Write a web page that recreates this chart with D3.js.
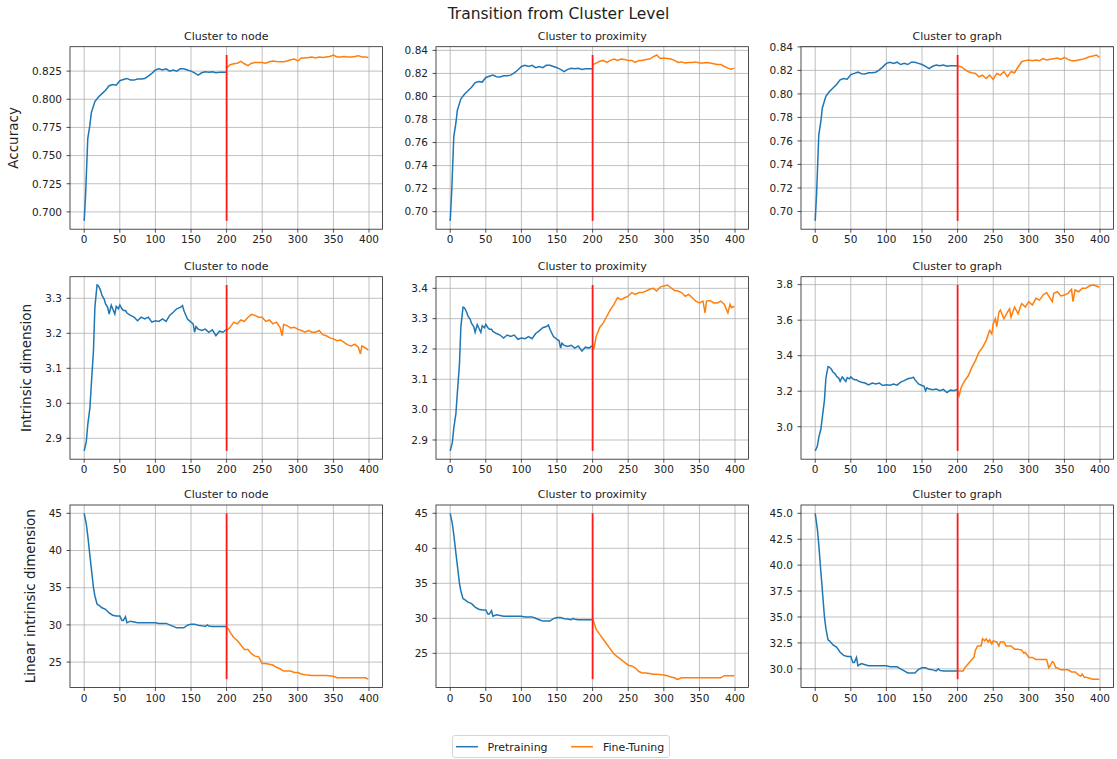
<!DOCTYPE html>
<html>
<head>
<meta charset="utf-8">
<script src="https://cdn.jsdelivr.net/npm/d3@7"></script>
<style>
  body { margin: 0; background: #fff; }
  svg { font-family: "DejaVu Sans", sans-serif; }
</style>
</head>
<body>
<div id="chart"></div>
<script>
const xTicks = [0, 50, 100, 150, 200, 250, 300, 350, 400];
const colTitles = ['Cluster to node', 'Cluster to proximity', 'Cluster to graph'];
const rowLabels = ['Accuracy', 'Intrinsic dimension', 'Linear intrinsic dimension'];
const seriesNames = ['Pretraining', 'Fine-Tuning'];

// [epoch, value]
const accPre = [[0,0.692],[2,0.716],[5,0.765],[8,0.777],[10,0.788],[15,0.798],[20,0.802],[25,0.805],[30,0.808],[35,0.812],[40,0.813],[45,0.8125],[50,0.8165],[55,0.8175],[60,0.8185],[65,0.8172],[70,0.817],[75,0.818],[80,0.818],[85,0.8185],[90,0.8205],[95,0.823],[100,0.826],[105,0.827],[110,0.826],[115,0.827],[120,0.825],[125,0.826],[130,0.825],[135,0.827],[140,0.827],[145,0.826],[150,0.825],[155,0.8235],[160,0.8215],[165,0.8235],[170,0.8245],[175,0.824],[180,0.8245],[185,0.8235],[190,0.824],[195,0.824],[199,0.824]];
const accNode = [[200,0.8277],[205,0.8307],[210,0.8315],[215,0.832],[220,0.8336],[225,0.8315],[230,0.8298],[235,0.832],[240,0.8327],[245,0.8327],[250,0.8327],[255,0.832],[260,0.8333],[265,0.834],[270,0.8336],[275,0.8333],[280,0.8333],[285,0.834],[290,0.835],[295,0.8357],[300,0.834],[305,0.8366],[310,0.8366],[315,0.837],[320,0.8375],[325,0.8366],[330,0.8375],[335,0.837],[340,0.8375],[345,0.838],[350,0.8393],[355,0.8375],[360,0.8375],[365,0.838],[370,0.8375],[375,0.8375],[380,0.838],[385,0.8387],[390,0.8375],[395,0.8375],[399,0.837]];
const accProx = [[200,0.8275],[205,0.829],[210,0.8305],[215,0.8313],[220,0.8295],[225,0.8313],[230,0.8325],[235,0.8313],[240,0.8325],[245,0.832],[250,0.8313],[255,0.8313],[260,0.8295],[265,0.8313],[270,0.8313],[275,0.832],[280,0.8325],[285,0.8343],[290,0.836],[295,0.833],[300,0.8333],[305,0.833],[310,0.8325],[315,0.8313],[320,0.8295],[325,0.83],[330,0.829],[335,0.8295],[340,0.8295],[345,0.83],[350,0.829],[355,0.829],[360,0.8295],[365,0.829],[370,0.8284],[375,0.8278],[380,0.8278],[385,0.826],[390,0.8246],[395,0.8237],[399,0.8246]];
const accGraph = [[200,0.8237],[205,0.8231],[210,0.8209],[215,0.8189],[220,0.818],[225,0.8174],[230,0.8146],[235,0.816],[240,0.8131],[245,0.816],[250,0.8123],[255,0.8174],[260,0.816],[265,0.8189],[270,0.8146],[275,0.8189],[280,0.818],[285,0.8231],[290,0.8274],[295,0.8283],[300,0.8289],[305,0.8283],[310,0.8289],[315,0.8283],[320,0.83],[325,0.8289],[330,0.8294],[335,0.83],[340,0.8306],[345,0.8294],[350,0.8311],[355,0.8294],[360,0.8283],[365,0.8283],[370,0.8289],[375,0.8294],[380,0.8303],[385,0.8317],[390,0.8323],[395,0.8331],[399,0.8311]];

const idPre = [[0,2.864],[3,2.891],[5,2.939],[8,2.987],[10,3.054],[13,3.150],[15,3.274],[18,3.338],[20,3.336],[23,3.322],[25,3.308],[28,3.298],[30,3.284],[33,3.274],[35,3.255],[38,3.280],[40,3.270],[43,3.255],[45,3.277],[48,3.270],[50,3.281],[53,3.270],[55,3.265],[58,3.265],[60,3.258],[65,3.251],[70,3.246],[75,3.236],[80,3.246],[85,3.241],[90,3.246],[95,3.232],[100,3.236],[105,3.234],[110,3.241],[115,3.234],[120,3.251],[125,3.260],[130,3.270],[135,3.274],[138,3.279],[140,3.265],[145,3.241],[150,3.232],[153,3.227],[155,3.203],[157,3.219],[160,3.212],[165,3.208],[170,3.212],[175,3.203],[180,3.210],[185,3.193],[190,3.206],[195,3.203],[199,3.210]];
const idNode = [[200,3.208],[205,3.217],[210,3.232],[215,3.227],[220,3.238],[225,3.234],[230,3.246],[235,3.254],[240,3.251],[245,3.246],[250,3.246],[255,3.234],[260,3.238],[265,3.227],[270,3.232],[275,3.217],[278,3.193],[280,3.225],[285,3.222],[290,3.215],[295,3.217],[300,3.212],[305,3.208],[310,3.203],[315,3.208],[320,3.203],[325,3.203],[330,3.208],[335,3.196],[340,3.193],[345,3.187],[350,3.184],[355,3.179],[360,3.181],[365,3.174],[370,3.167],[375,3.164],[380,3.169],[385,3.160],[388,3.141],[390,3.164],[395,3.158],[399,3.152]];
const idProx = [[200,3.197],[202,3.202],[205,3.241],[210,3.271],[215,3.286],[220,3.308],[225,3.330],[230,3.347],[235,3.369],[240,3.363],[245,3.369],[250,3.374],[255,3.386],[260,3.380],[265,3.386],[270,3.386],[275,3.391],[280,3.397],[285,3.400],[290,3.391],[295,3.404],[300,3.408],[305,3.411],[310,3.402],[315,3.393],[320,3.391],[325,3.386],[330,3.374],[335,3.380],[340,3.369],[345,3.358],[350,3.352],[355,3.358],[358,3.319],[360,3.358],[365,3.360],[370,3.352],[375,3.352],[380,3.358],[385,3.347],[390,3.319],[393,3.347],[395,3.336],[399,3.341]];
const idGraph = [[200,3.202],[202,3.174],[205,3.221],[210,3.259],[215,3.287],[220,3.334],[225,3.372],[230,3.419],[235,3.447],[240,3.485],[245,3.542],[248,3.523],[250,3.579],[253,3.608],[255,3.564],[258,3.645],[260,3.657],[265,3.608],[270,3.645],[273,3.664],[275,3.617],[280,3.674],[285,3.636],[288,3.674],[290,3.694],[295,3.674],[300,3.704],[305,3.685],[310,3.723],[315,3.713],[320,3.742],[325,3.755],[330,3.723],[333,3.704],[335,3.751],[340,3.760],[345,3.736],[350,3.742],[355,3.751],[360,3.774],[362,3.704],[365,3.770],[370,3.760],[375,3.779],[380,3.779],[385,3.792],[390,3.798],[395,3.792],[399,3.785]];

const lidPre = [[0,45.0],[3,43.5],[5,42.0],[8,39.3],[10,37.6],[13,35.0],[15,33.9],[18,32.8],[20,32.7],[25,32.3],[30,32.1],[35,31.6],[40,31.3],[45,31.2],[50,31.2],[53,30.6],[55,30.6],[58,31.1],[60,30.3],[65,30.5],[70,30.4],[75,30.3],[80,30.3],[90,30.3],[100,30.3],[105,30.2],[110,30.2],[115,30.2],[120,30.0],[125,29.8],[130,29.6],[135,29.6],[140,29.6],[145,29.95],[150,30.1],[155,30.1],[160,29.95],[165,29.9],[170,29.8],[173,30.0],[175,29.85],[180,29.8],[190,29.8],[199,29.8]];
const lidNode = [[200,29.6],[203,29.4],[205,29.0],[210,28.3],[215,27.9],[220,27.3],[225,26.7],[230,26.7],[235,26.1],[240,25.8],[245,25.7],[250,24.8],[255,24.8],[260,24.7],[265,24.6],[270,24.3],[275,24.1],[280,23.8],[285,23.8],[290,23.8],[295,23.6],[300,23.6],[305,23.4],[310,23.3],[320,23.2],[330,23.2],[340,23.2],[350,23.1],[355,22.9],[360,22.9],[370,22.9],[380,22.9],[390,22.9],[395,22.9],[399,22.7]];
const lidProx = [[200,29.86],[203,29.1],[205,28.4],[210,27.7],[215,27.0],[220,26.3],[225,25.6],[230,24.9],[235,24.5],[240,24.1],[245,23.7],[250,23.3],[255,23.2],[260,22.9],[265,22.4],[270,22.2],[275,22.2],[280,22.1],[285,22.0],[290,22.0],[300,21.9],[305,21.8],[310,21.6],[315,21.5],[318,21.3],[320,21.3],[325,21.5],[330,21.5],[340,21.5],[350,21.5],[360,21.5],[370,21.5],[380,21.5],[385,21.8],[390,21.8],[395,21.8],[399,21.8]];
const lidGraph = [[200,29.8],[205,29.8],[208,29.8],[210,30.1],[215,30.5],[220,30.9],[223,31.1],[225,31.8],[228,32.2],[230,32.2],[233,32.2],[235,32.9],[238,32.7],[240,32.9],[243,32.6],[245,32.8],[248,32.4],[250,32.7],[255,32.6],[258,32.2],[260,32.6],[265,32.6],[268,32.2],[270,32.2],[275,32.2],[280,31.9],[285,31.9],[290,31.8],[293,31.5],[295,31.6],[300,31.1],[305,31.1],[310,30.9],[315,30.9],[320,30.9],[325,30.9],[328,30.1],[330,30.3],[333,30.7],[335,30.6],[338,30.1],[340,30.1],[345,29.9],[350,29.9],[355,29.9],[360,29.7],[365,29.7],[370,29.4],[373,29.3],[375,29.5],[378,29.2],[380,29.2],[385,29.1],[390,29.0],[395,29.0],[399,29.0]];

// y tick labels per panel, row by row
const yTickLabels = [
    [['0.700','0.725','0.750','0.775','0.800','0.825'],
     ['0.70','0.72','0.74','0.76','0.78','0.80','0.82','0.84'],
     ['0.70','0.72','0.74','0.76','0.78','0.80','0.82','0.84']],
    [['2.9','3.0','3.1','3.2','3.3'],
     ['2.9','3.0','3.1','3.2','3.3','3.4'],
     ['3.0','3.2','3.4','3.6','3.8']],
    [['25','30','35','40','45'],
     ['25','30','35','40','45'],
     ['30.0','32.5','35.0','37.5','40.0','42.5','45.0']]
];

const pretraining = [accPre, idPre, lidPre];
const fineTuning = [[accNode, accProx, accGraph], [idNode, idProx, idGraph], [lidNode, lidProx, lidGraph]];

const W = 1117, H = 759;
const colLeft = [70, 436, 801];
const rowTop = [46.7, 276.7, 505];
const pw = 312.5, ph = 182.5;
const blue = '#1f77b4', orange = '#ff7f0e';
const textCol = '#222';

const svg = d3.select('#chart').append('svg')
    .attr('width', W)
    .attr('height', H);

svg.append('text')
    .attr('x', W / 2).attr('y', 19)
    .attr('text-anchor', 'middle')
    .attr('font-size', 15.5)
    .attr('fill', textCol)
    .text('Transition from Cluster Level');

function panel(r, c) {
    const pre = pretraining[r];
    const fine = fineTuning[r][c];
    const all = pre.concat(fine);
    const [lo, hi] = d3.extent(all, d => d[1]);
    const pad = (hi - lo) * 0.05;

    const x = d3.scaleLinear().domain([-19.95, 418.95]).range([0, pw]);
    const y = d3.scaleLinear().domain([lo - pad, hi + pad]).range([ph, 0]);

    const g = svg.append('g').attr('transform', `translate(${colLeft[c]},${rowTop[r]})`);
    const ticks = yTickLabels[r][c];

    // grid
    g.selectAll('.gx').data(xTicks).enter().append('line')
        .attr('x1', d => x(d)).attr('x2', d => x(d))
        .attr('y1', 0).attr('y2', ph)
        .attr('stroke', '#b0b0b0').attr('stroke-width', 0.8);
    g.selectAll('.gy').data(ticks).enter().append('line')
        .attr('x1', 0).attr('x2', pw)
        .attr('y1', d => y(+d)).attr('y2', d => y(+d))
        .attr('stroke', '#b0b0b0').attr('stroke-width', 0.8);

    const line = d3.line().x(d => x(d[0])).y(d => y(d[1]));
    g.append('path').datum(pre).attr('d', line)
        .attr('fill', 'none').attr('stroke', blue).attr('stroke-width', 1.5);
    g.append('path').datum(fine).attr('d', line)
        .attr('fill', 'none').attr('stroke', orange).attr('stroke-width', 1.5);

    // switch from pretraining to fine-tuning
    g.append('line')
        .attr('x1', x(200)).attr('x2', x(200))
        .attr('y1', y(lo)).attr('y2', y(hi))
        .attr('stroke', '#ff1a1a').attr('stroke-width', 1.8);

    g.append('rect').attr('width', pw).attr('height', ph)
        .attr('fill', 'none').attr('stroke', '#222').attr('stroke-width', 0.8);

    // x ticks
    g.selectAll('.tx').data(xTicks).enter().append('line')
        .attr('x1', d => x(d)).attr('x2', d => x(d))
        .attr('y1', ph).attr('y2', ph + 3.5)
        .attr('stroke', '#222').attr('stroke-width', 0.8);
    g.selectAll('.lx').data(xTicks).enter().append('text')
        .attr('x', d => x(d)).attr('y', ph + 14)
        .attr('text-anchor', 'middle')
        .attr('font-size', 10.5).attr('fill', textCol)
        .text(d => d);

    // y ticks
    g.selectAll('.ty').data(ticks).enter().append('line')
        .attr('x1', -3.5).attr('x2', 0)
        .attr('y1', d => y(+d)).attr('y2', d => y(+d))
        .attr('stroke', '#222').attr('stroke-width', 0.8);
    const labels = g.selectAll('.ly').data(ticks).enter().append('text')
        .attr('x', -8).attr('y', d => y(+d))
        .attr('dy', '0.36em')
        .attr('text-anchor', 'end')
        .attr('font-size', 10.5).attr('fill', textCol)
        .text(d => d);

    g.append('text')
        .attr('x', pw / 2).attr('y', -7)
        .attr('text-anchor', 'middle')
        .attr('font-size', 11).attr('fill', textCol)
        .text(colTitles[c]);

    if (c === 0) {
        const maxW = d3.max(labels.nodes(), n => n.getBBox().width);
        const bx = -8 - maxW - 14;
        g.append('text')
            .attr('transform', `translate(${bx},${ph / 2}) rotate(-90)`)
            .attr('text-anchor', 'middle')
            .attr('font-size', 13.5).attr('fill', textCol)
            .text(rowLabels[r]);
    }
}

for (let r = 0; r < 3; r++) {
    for (let c = 0; c < 3; c++) panel(r, c);
}

// legend
const lg = svg.append('g').attr('transform', 'translate(452.5,735.5)');
lg.append('rect').attr('width', 217).attr('height', 22).attr('rx', 2.5)
    .attr('fill', '#fff').attr('stroke', '#cccccc').attr('stroke-width', 0.8);
const items = [[3.5, 35, blue], [118.5, 150.5, orange]];
items.forEach((it, i) => {
    lg.append('line').attr('x1', it[0]).attr('x2', it[0] + 22)
        .attr('y1', 11.2).attr('y2', 11.2)
        .attr('stroke', it[2]).attr('stroke-width', 1.5);
    lg.append('text').attr('x', it[1]).attr('y', 15.2)
        .attr('font-size', 11).attr('fill', textCol)
        .text(seriesNames[i]);
});
</script>
</body>
</html>
